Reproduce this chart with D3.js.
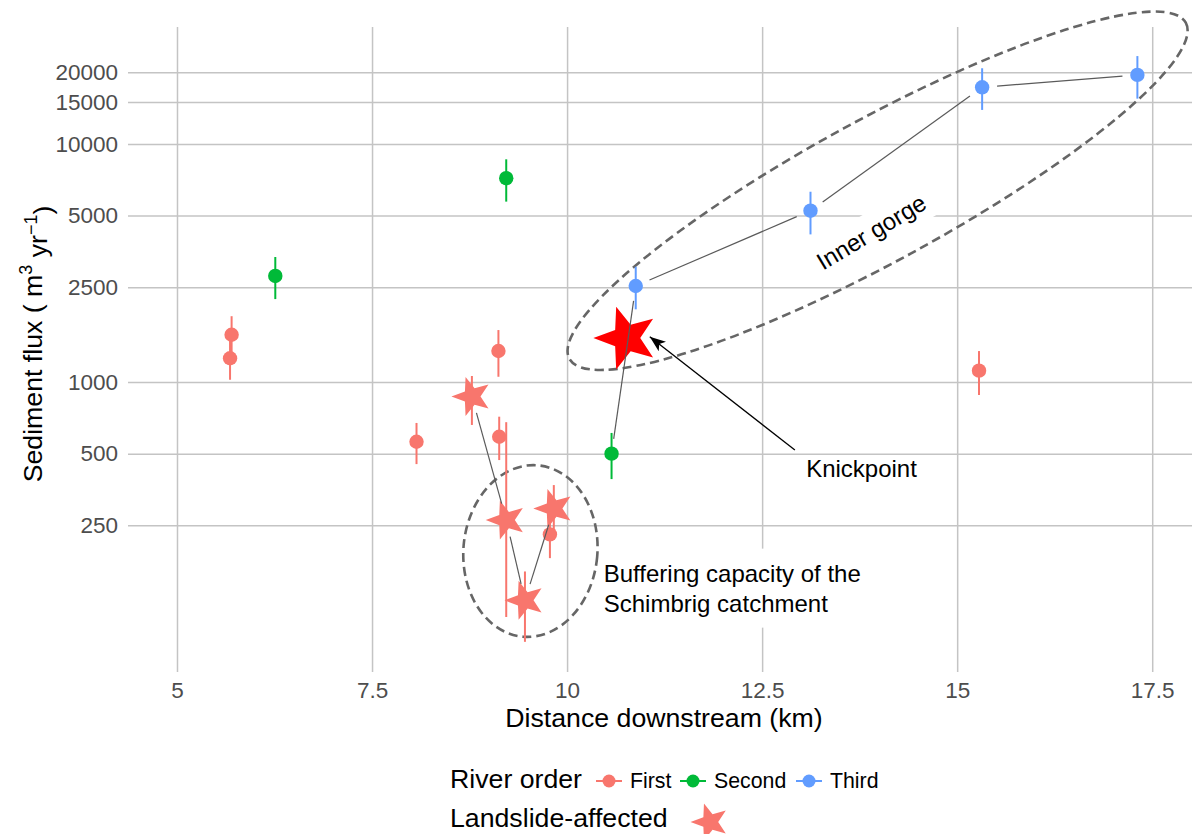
<!DOCTYPE html>
<html>
<head>
<meta charset="utf-8">
<script src="https://cdn.jsdelivr.net/npm/d3@7"></script>
<style>
  body { margin: 0; background: #fff; }
  svg { display: block; font-family: "Liberation Sans", Arial, sans-serif; }
</style>
</head>
<body>
<svg id="chart" width="1192" height="834"></svg>
<script>
// sampling sites, in downstream order
const distanceKm = [5.70, 5.68, 6.26, 8.07, 8.78, 9.12, 9.13, 9.22, 9.22, 9.46, 9.78, 9.83, 10.57, 10.88, 13.12, 15.28, 15.32, 17.31];
const fluxMean   = [1580, 1258, 2790, 561, 869, 1350, 589, 7180, 263, 121, 229, 294, 500, 2531, 5244, 1116, 17300, 19500];
const fluxLow    = [1290, 1022, 2230, 452, 660, 1052, 470, 5725, 103, 81, 182, 235, 391, 2020, 4170, 882, 13900, 15500];
const fluxHigh   = [1890, 1546, 3350, 673, 1060, 1653, 715, 8620, 678, 160, 285, 369, 611, 3050, 6300, 1349, 20800, 23400];
const riverOrder = ['First', 'First', 'Second', 'First', 'First', 'First', 'First', 'Second', 'First', 'First',
                    'First', 'First', 'Second', 'Third', 'Third', 'First', 'Third', 'Third'];
const landslide  = [false, false, false, false, true, false, false, false, true, true,
                    false, true, false, false, false, false, false, false];

// sites joined by thin lines
const gorgePath = [12, 13, 14, 16, 17];
const landslidePath = [4, 8, 9, 11];

// knickpoint
const knickKm = [10.76];
const knickFlux = [1530];

const orderLevels = ['First', 'Second', 'Third'];
const orderColours = ['#F8766D', '#00BA38', '#619CFF'];

const xTicks = [5, 7.5, 10, 12.5, 15, 17.5];
const yTicks = [250, 500, 1000, 2500, 5000, 10000, 15000, 20000];

const svg = d3.select('#chart');
const panel = { left: 128, right: 1192, top: 27, bottom: 672 };

const x = d3.scaleLinear().domain([4.372, 18.01]).range([panel.left, panel.right]);
const y = d3.scaleLog().domain([60.5, 31000]).range([panel.bottom, panel.top]);
const colour = d3.scaleOrdinal().domain(orderLevels).range(orderColours);

const sites = distanceKm.map((d, i) => ({
  km: d, flux: fluxMean[i], lo: fluxLow[i], hi: fluxHigh[i],
  order: riverOrder[i], slide: landslide[i]
}));

// five-pointed star, size = outer radius; a bit plumper than d3.symbolStar
const plumpStar = {
  draw(context, r) {
    for (let i = 0; i < 10; ++i) {
      const a = i * Math.PI / 5;
      const rad = i % 2 ? r * 0.42 : r;
      const px = rad * Math.sin(a), py = -rad * Math.cos(a);
      if (i === 0) context.moveTo(px, py); else context.lineTo(px, py);
    }
    context.closePath();
  }
};
const starPath = (r) => d3.symbol().type(plumpStar).size(r)();

// grid + axes
const xAxis = svg.append('g')
  .attr('transform', `translate(0,${panel.bottom})`)
  .call(d3.axisBottom(x).tickValues(xTicks).tickFormat(d3.format('~g'))
    .tickSize(-(panel.bottom - panel.top)).tickPadding(10));

const yAxis = svg.append('g')
  .attr('transform', `translate(${panel.left},0)`)
  .call(d3.axisLeft(y).tickValues(yTicks).tickFormat(d3.format('d'))
    .tickSize(-(panel.right - panel.left)).tickPadding(10));

[xAxis, yAxis].forEach(ax => {
  ax.select('.domain').remove();
  ax.selectAll('.tick line').attr('stroke', '#C4C4C4').attr('stroke-width', 1.5);
  ax.selectAll('.tick text')
    .attr('fill', '#4D4D4D')
    .style('font-size', '22.5px')
    .style('font-family', '"Liberation Sans", Arial, sans-serif');
});

// axis titles
svg.append('text')
  .attr('x', 664).attr('y', 727)
  .attr('text-anchor', 'middle')
  .style('font-size', '26.7px')
  .text('Distance downstream (km)');

const yTitle = svg.append('text')
  .attr('transform', 'translate(42,344) rotate(-90)')
  .attr('text-anchor', 'middle')
  .style('font-size', '26.7px');
yTitle.append('tspan').text('Sediment flux ( m');
yTitle.append('tspan').attr('dy', '-0.55em').style('font-size', '18px').text('3');
yTitle.append('tspan').attr('dy', '0.55em').text(' yr');
yTitle.append('tspan').attr('dy', '-0.55em').style('font-size', '18px').text('\u22121');
yTitle.append('tspan').attr('dy', '0.55em').text(')');

// label boxes (white background behind annotation text)
const annot = svg.append('g');

const gorgeLabel = { km: 13.9, flux: 4270, angle: -31 };
const gorgeG = annot.append('g')
  .attr('transform', `translate(${x(gorgeLabel.km)},${y(gorgeLabel.flux)}) rotate(${gorgeLabel.angle})`);
gorgeG.append('rect')
  .attr('x', -75).attr('y', -19).attr('width', 150).attr('height', 38)
  .attr('fill', '#fff');

const bufferLabel = { km: 10.47, flux: 145 };
const bufferG = annot.append('g')
  .attr('transform', `translate(${x(bufferLabel.km)},${y(bufferLabel.flux)})`);
const bufferBox = bufferG.append('rect').attr('fill', '#fff');
const bufferText = bufferG.append('text').style('font-size', '24px');
bufferText.append('tspan').attr('x', 0).attr('y', 0).text('Buffering capacity of the');
bufferText.append('tspan').attr('x', 0).attr('y', 30).text('Schimbrig catchment');
const bb = bufferText.node().getBBox();
bufferBox.attr('x', bb.x - 7).attr('y', bb.y - 11).attr('width', bb.width + 14).attr('height', bb.height + 22);

// dashed ellipses
const ellipses = [
  { km: 13.98, flux: 6360, rx: 351, ry: 71, angle: -28.6 },
  { km: 9.53, flux: 195, rx: 67, ry: 86, angle: 5 }
];
svg.append('g').selectAll('ellipse')
  .data(ellipses)
  .join('ellipse')
    .attr('transform', d => `translate(${x(d.km)},${y(d.flux)}) rotate(${d.angle})`)
    .attr('rx', d => d.rx)
    .attr('ry', d => d.ry)
    .attr('fill', 'none')
    .attr('stroke', '#666')
    .attr('stroke-width', 2.6)
    .attr('stroke-dasharray', '9,5');

// error bars
svg.append('g').selectAll('line')
  .data(sites)
  .join('line')
    .attr('x1', d => x(d.km)).attr('x2', d => x(d.km))
    .attr('y1', d => y(d.lo)).attr('y2', d => y(d.hi))
    .attr('stroke', d => colour(d.order))
    .attr('stroke-width', 2);

// circles for sites not affected by landslides
svg.append('g').selectAll('circle')
  .data(sites.filter(d => !d.slide))
  .join('circle')
    .attr('cx', d => x(d.km))
    .attr('cy', d => y(d.flux))
    .attr('r', 7.2)
    .attr('fill', d => colour(d.order));

// stars for landslide-affected sites
svg.append('g').selectAll('path')
  .data(sites.filter(d => d.slide))
  .join('path')
    .attr('d', starPath(20.5))
    .attr('transform', d => `translate(${x(d.km)},${y(d.flux)}) rotate(-90)`)
    .attr('fill', d => colour(d.order));

// knickpoint star
svg.append('g').selectAll('path')
  .data(knickKm.map((d, i) => ({ km: d, flux: knickFlux[i] })))
  .join('path')
    .attr('d', starPath(33))
    .attr('transform', d => `translate(${x(d.km)},${y(d.flux)}) rotate(-90)`)
    .attr('fill', '#FF0000');

// connecting segments, trimmed at both ends
const segments = (ids, gap) => d3.pairs(ids).map(([a, b]) => {
  const x0 = x(sites[a].km), y0 = y(sites[a].flux);
  const x1 = x(sites[b].km), y1 = y(sites[b].flux);
  const len = Math.hypot(x1 - x0, y1 - y0);
  const ux = (x1 - x0) / len, uy = (y1 - y0) / len;
  return [x0 + ux * gap, y0 + uy * gap, x1 - ux * gap, y1 - uy * gap];
});
svg.append('g').selectAll('line')
  .data(segments(gorgePath, 15).concat(segments(landslidePath, 17)))
  .join('line')
    .attr('x1', d => d[0]).attr('y1', d => d[1])
    .attr('x2', d => d[2]).attr('y2', d => d[3])
    .attr('stroke', '#5A5A5A')
    .attr('stroke-width', 1.2);

// knickpoint arrow
svg.append('defs').append('marker')
  .attr('id', 'arrowhead')
  .attr('viewBox', '0 0 16 12')
  .attr('refX', 16).attr('refY', 6)
  .attr('markerWidth', 16).attr('markerHeight', 12)
  .attr('markerUnits', 'userSpaceOnUse')
  .attr('orient', 'auto')
  .append('path')
    .attr('d', 'M0,0 L16,6 L0,12 L4,6 Z')
    .attr('fill', '#000');

const arrow = { fromKm: 12.92, fromFlux: 518, toKm: 11.06, toFlux: 1550 };
svg.append('line')
  .attr('x1', x(arrow.fromKm)).attr('y1', y(arrow.fromFlux))
  .attr('x2', x(arrow.toKm)).attr('y2', y(arrow.toFlux))
  .attr('stroke', '#000')
  .attr('stroke-width', 1.3)
  .attr('marker-end', 'url(#arrowhead)');

// annotation text
svg.append('text')
  .attr('x', x(13.064)).attr('y', y(400))
  .style('font-size', '24px')
  .text('Knickpoint');

gorgeG.append('text')
  .attr('text-anchor', 'middle')
  .attr('dy', '0.35em')
  .style('font-size', '24px')
  .text('Inner gorge');

// legend
const legend = svg.append('g');
legend.append('text')
  .attr('x', 450).attr('y', 788)
  .style('font-size', '26.7px')
  .text('River order');

const keyX = [609, 693, 809];
const labelX = [630, 714, 830];
orderLevels.forEach((lvl, i) => {
  const k = legend.append('g');
  k.append('line')
    .attr('x1', keyX[i] - 13).attr('x2', keyX[i] + 13)
    .attr('y1', 781).attr('y2', 781)
    .attr('stroke', colour(lvl)).attr('stroke-width', 2);
  k.append('circle')
    .attr('cx', keyX[i]).attr('cy', 781).attr('r', 6.5)
    .attr('fill', colour(lvl));
  k.append('text')
    .attr('x', labelX[i]).attr('y', 788)
    .style('font-size', '21.3px')
    .text(lvl);
});

legend.append('text')
  .attr('x', 450).attr('y', 827)
  .style('font-size', '26.7px')
  .text('Landslide-affected');
legend.append('path')
  .attr('d', starPath(19.5))
  .attr('transform', 'translate(710,822) rotate(-90)')
  .attr('fill', colour('First'));
</script>
</body>
</html>
